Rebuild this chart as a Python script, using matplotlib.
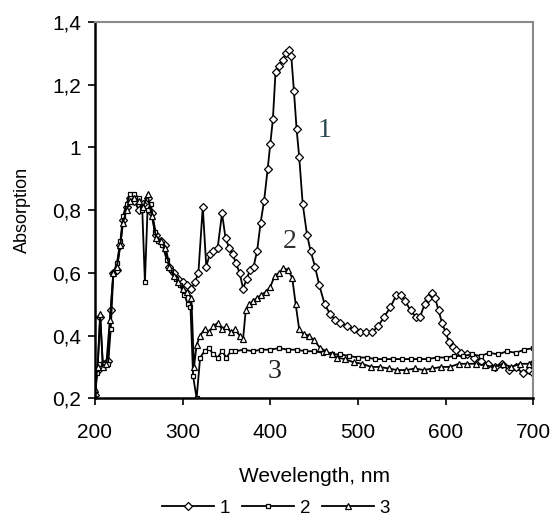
import matplotlib
matplotlib.use("Agg")
import matplotlib.pyplot as plt

# ---- data ----
wl1 = [200,203,206,209,212,215,218,221,225,229,232,236,240,245,250,255,260,265,270,275,
       280,285,290,295,300,305,310,314,318,323,327,331,335,340,345,349,353,357,361,365,
       369,373,377,381,385,389,393,397,400,403,406,410,414,418,421,424,427,430,433,437,
       442,446,451,456,462,468,474,480,487,495,502,509,516,523,530,537,544,549,554,560,
       566,571,576,580,584,588,592,596,600,604,608,612,618,625,632,640,648,656,664,672,
       680,688,695,700]
ab1 = [0.21,0.29,0.46,0.31,0.31,0.32,0.48,0.60,0.61,0.69,0.77,0.81,0.84,0.83,0.80,0.82,0.84,0.79,0.72,0.70,
       0.69,0.62,0.60,0.58,0.57,0.56,0.55,0.57,0.60,0.81,0.62,0.66,0.67,0.68,0.79,0.71,0.68,0.66,0.63,0.60,
       0.55,0.58,0.61,0.62,0.67,0.76,0.83,0.93,1.01,1.09,1.24,1.26,1.28,1.30,1.31,1.29,1.18,1.06,0.97,0.82,
       0.72,0.67,0.62,0.56,0.50,0.47,0.45,0.44,0.43,0.42,0.41,0.41,0.41,0.43,0.46,0.49,0.53,0.53,0.51,0.48,
       0.46,0.46,0.50,0.52,0.535,0.52,0.48,0.44,0.41,0.38,0.365,0.355,0.345,0.34,0.33,0.32,0.31,0.30,0.31,0.29,
       0.30,0.28,0.29,0.28]

wl2 = [200,202,205,210,215,218,221,225,229,232,236,240,245,250,254,257,260,264,268,272,
       277,282,287,292,297,302,306,309,312,316,320,325,330,335,340,345,350,355,360,370,
       380,390,400,410,420,430,440,450,460,470,480,490,500,510,520,530,540,550,560,570,
       580,590,600,610,620,630,640,650,660,670,680,690,700]
ab2 = [0.20,0.28,0.31,0.31,0.31,0.42,0.60,0.63,0.70,0.78,0.82,0.85,0.85,0.84,0.80,0.57,0.80,0.82,0.73,0.70,
       0.69,0.64,0.61,0.58,0.56,0.53,0.50,0.49,0.27,0.20,0.33,0.35,0.36,0.34,0.33,0.35,0.33,0.35,0.35,0.355,
       0.35,0.355,0.355,0.36,0.355,0.355,0.35,0.35,0.345,0.34,0.34,0.335,0.33,0.33,0.325,0.325,0.325,0.325,0.325,0.325,
       0.325,0.33,0.33,0.335,0.335,0.34,0.335,0.345,0.34,0.35,0.345,0.355,0.36]

wl3 = [200,203,206,209,213,217,221,225,229,232,236,240,245,250,255,260,265,270,275,280,
       285,290,295,300,305,310,313,316,320,325,330,335,340,345,350,355,360,365,369,372,
       376,380,385,390,395,400,405,410,415,420,425,429,433,438,444,450,457,464,470,476,
       485,495,505,515,525,535,545,555,565,575,585,595,605,615,625,635,645,655,665,675,
       685,695,700]
ab3 = [0.23,0.30,0.47,0.30,0.31,0.45,0.60,0.62,0.69,0.76,0.80,0.83,0.84,0.83,0.81,0.85,0.78,0.71,0.70,0.68,
       0.62,0.59,0.57,0.55,0.54,0.52,0.30,0.37,0.40,0.42,0.41,0.43,0.44,0.42,0.43,0.41,0.42,0.40,0.39,0.48,
       0.50,0.51,0.52,0.53,0.54,0.555,0.59,0.60,0.615,0.61,0.585,0.50,0.42,0.405,0.40,0.385,0.36,0.35,0.34,0.33,
       0.325,0.315,0.31,0.30,0.30,0.295,0.29,0.29,0.295,0.29,0.295,0.30,0.30,0.31,0.31,0.31,0.305,0.30,0.31,0.30,
       0.31,0.31,0.32]

series_labels = ["1", "2", "3"]
xticks = [200, 300, 400, 500, 600, 700]
yticks = [0.2, 0.4, 0.6, 0.8, 1.0, 1.2, 1.4]
yticklabels = ["0,2", "0,4", "0,6", "0,8", "1", "1,2", "1,4"]

# ---- figure ----
plt.rcParams['font.family'] = ['Liberation Sans', 'DejaVu Sans']
fig = plt.figure(figsize=(5.52, 5.22), dpi=100)
ax = fig.add_axes([0.172, 0.237, 0.794, 0.721])

common = dict(color='black', lw=1.3, markerfacecolor='white', markeredgecolor='black',
              markeredgewidth=0.9)
ax.plot(wl1, ab1, marker='D', markersize=3.6, label=series_labels[0], **common)
ax.plot(wl2, ab2, marker='s', markersize=3.4, label=series_labels[1], **common)
ax.plot(wl3, ab3, marker='^', markersize=4.0, label=series_labels[2], **common)

ax.set_xlim(200, 700)
ax.set_ylim(0.2, 1.4)
ax.set_xticks(xticks)
ax.set_yticks(yticks)
ax.set_yticklabels(yticklabels)
ax.tick_params(direction='out', length=5, width=1.2, labelsize=15)
ax.tick_params(axis='x', pad=13)
ax.tick_params(axis='y', pad=5)

for s in ['left', 'bottom']:
    ax.spines[s].set_linewidth(1.8)
    ax.spines[s].set_color('black')
for s in ['top', 'right']:
    ax.spines[s].set_linewidth(1.5)
    ax.spines[s].set_color('#8a8a8a')

ax.set_xlabel("Wevelength, nm", fontsize=15, labelpad=18)
ax.set_ylabel("Absorption", fontsize=13, labelpad=15)

ax.text(462, 1.055, "1", family='Liberation Serif', fontsize=20, color='#2b4a4f',
        ha='center', va='center')
ax.text(422, 0.70, "2", family='Liberation Serif', fontsize=20, color='#333333',
        ha='center', va='center')
ax.text(405, 0.285, "3", family='Liberation Serif', fontsize=20, color='#222222',
        ha='center', va='center')

fig.legend(loc='center', bbox_to_anchor=(0.5, 0.026), ncol=3, frameon=False,
           fontsize=13.5, handlelength=2.8, handletextpad=0.3, columnspacing=0.6,
           borderpad=0)

fig.savefig("out.png", dpi=100)
